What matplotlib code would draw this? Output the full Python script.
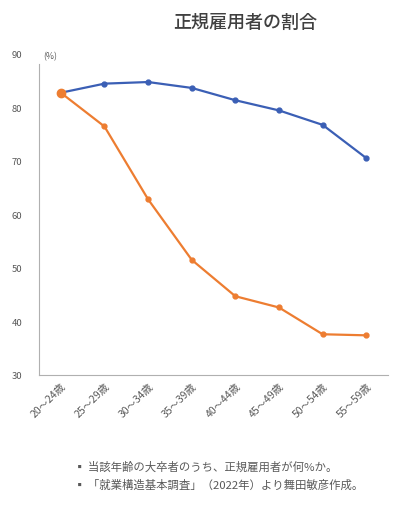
import matplotlib.pyplot as plt

plt.rcParams["font.family"] = ["Noto Sans CJK JP", "DejaVu Sans"]

# age groups and share of regular employees (%)
ages = ["20～24歳", "25～29歳", "30～34歳", "35～39歳",
        "40～44歳", "45～49歳", "50～54歳", "55～59歳"]
men = [82.7, 84.4, 84.7, 83.6, 81.3, 79.4, 76.7, 70.5]
women = [82.7, 76.4, 62.8, 51.5, 44.7, 42.6, 37.6, 37.4]

notes = [
    "▪ 当該年齢の大卒者のうち、正規雇用者が何%か。",
    "▪ 「就業構造基本調査」（2022年）より舞田敏彦作成。",
]

blue = "#3b5fb5"
orange = "#ed7d31"
grey = "#595959"

fig = plt.figure(figsize=(3.98, 5.06), dpi=100)
ax = fig.add_axes([0.098, 0.257, 0.877, 0.635])

x = range(len(ages))
ax.plot(x, men, color=blue, lw=1.6, marker="o", ms=3.5)
ax.plot(x, women, color=orange, lw=1.6, marker="o", ms=3.5)
ax.plot([0], [women[0]], color=orange, marker="o", ms=6, ls="none")

ax.set_xlim(-0.5, len(ages) - 0.5)
ax.set_ylim(30, 90)
ax.set_yticks([30, 40, 50, 60, 70, 80, 90])
ax.set_xticks(list(x))
ax.set_xticklabels(ages, rotation=45, ha="right", rotation_mode="anchor",
                   fontsize=7.5, color=grey)
ax.tick_params(axis="y", labelsize=6.8, labelcolor=grey, length=0, pad=12)
ax.tick_params(axis="x", length=0, pad=4)

for side in ["top", "right"]:
    ax.spines[side].set_visible(False)
ax.spines["left"].set_color("#b0b0b0")
ax.spines["bottom"].set_color("#b0b0b0")
ax.spines["left"].set_bounds(30, 88)

ax.text(0.012, 0.995, "(%)", transform=ax.transAxes, fontsize=6.3, color=grey,
        va="center", ha="left")

fig.text(0.615, 0.955, "正規雇用者の割合", ha="center", va="center",
         fontsize=13, color="#404040", fontweight="medium")

fig.text(0.185, 0.077, notes[0], fontsize=8.2, color=grey, va="center")
fig.text(0.185, 0.040, notes[1], fontsize=8.2, color=grey, va="center")

fig.savefig("out.png", dpi=100, facecolor="white")
